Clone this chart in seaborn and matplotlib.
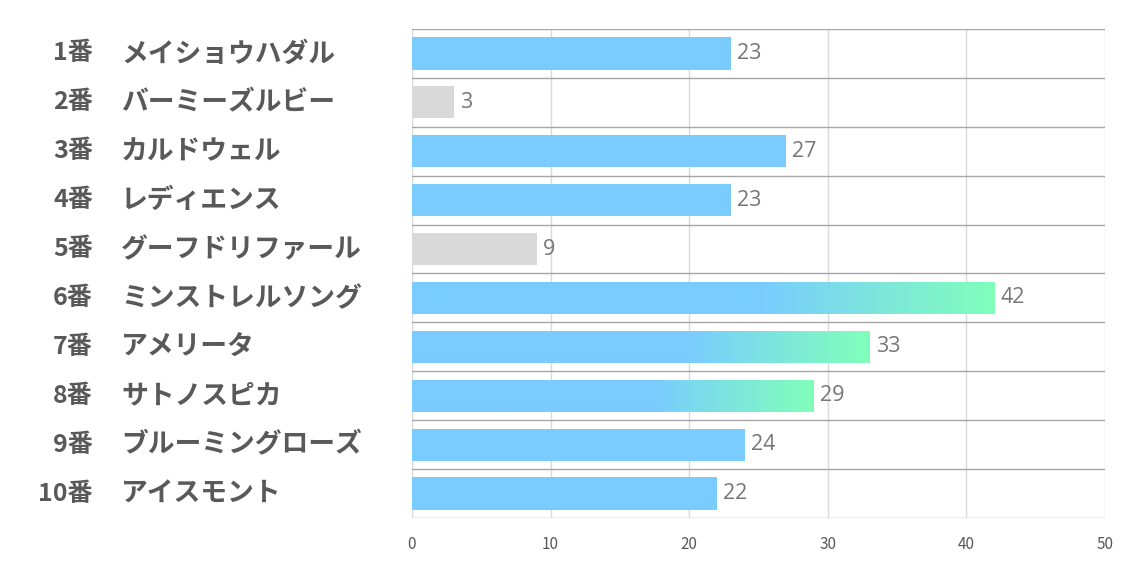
import numpy as np
import pandas as pd
import matplotlib
matplotlib.use("Agg")
import matplotlib.pyplot as plt
import seaborn as sns
from matplotlib.colors import LinearSegmentedColormap

numbers = ["1番", "2番", "3番", "4番", "5番", "6番", "7番", "8番", "9番", "10番"]
names = ["メイショウハダル", "バーミーズルビー", "カルドウェル", "レディエンス", "グーフドリファール",
         "ミンストレルソング", "アメリータ", "サトノスピカ", "ブルーミングローズ", "アイスモント"]
values = [23, 3, 27, 23, 9, 42, 33, 29, 24, 22]
kinds = ["blue", "gray", "blue", "blue", "gray", "grad", "grad", "grad", "blue", "blue"]

BLUE = "#7ACCFF"
GREEN = "#80FFBA"
GRAY = "#D9D9D9"

sns.set_theme(style="white")
plt.rcParams['font.family'] = ['Noto Sans CJK JP', 'DejaVu Sans']

df = pd.DataFrame({"name": names, "value": values, "kind": kinds})

fig = plt.figure(figsize=(11.34, 5.67), dpi=100)
ax = fig.add_axes([0.3633, 0.0864, 0.6111, 0.8625])

sns.barplot(data=df, x="value", y="name", hue="kind", orient="h",
            palette={"blue": BLUE, "gray": GRAY, "grad": BLUE},
            width=0.66, legend=False, ax=ax, zorder=2, saturation=1, linewidth=0)

ax.set_xlim(0, 50)
ax.set_ylim(len(names) - 0.5, -0.5)

# gradient fill on some bars (blue for first ~60%, then fade to green)
cmap = LinearSegmentedColormap.from_list("bg", [(0, BLUE), (0.6, BLUE), (1, GREEN)])
grad = np.linspace(0, 1, 256).reshape(1, -1)
for p in ax.patches:
    if p.get_width() <= 0:
        continue
    i = int(round(p.get_y() + p.get_height() / 2))
    if kinds[i] != "grad":
        continue
    x0, y0, w, h = p.get_x(), p.get_y(), p.get_width(), p.get_height()
    im = ax.imshow(grad, cmap=cmap, aspect="auto", extent=[x0, x0 + w, y0 + h, y0],
                   zorder=3, interpolation="bicubic")
    im.set_clip_path(p)

ax.set_xlim(0, 50)
ax.set_ylim(len(names) - 0.5, -0.5)

# grid lines
for xv in [0, 10, 20, 30, 40, 50]:
    ax.axvline(xv, color="#D9D9D9", lw=1, zorder=1)
for k in range(len(names) + 1):
    ax.axhline(k - 0.5, color="#A6A6A6", lw=1, zorder=1)

for s in ax.spines.values():
    s.set_visible(False)

ax.set_xticks([0, 10, 20, 30, 40, 50])
ax.tick_params(axis="x", labelsize=11, colors="#595959", length=0, pad=13)
ax.set_yticks([])
ax.set_xlabel("")
ax.set_ylabel("")

# value labels
for i, v in enumerate(values):
    ax.text(v + 0.45, i, str(v), ha="left", va="center", fontsize=15.5,
            color="#767676", family=['Open Sans', 'DejaVu Sans'])

# row labels
trans = matplotlib.transforms.blended_transform_factory(fig.transFigure, ax.transData)
for i, (n, nm) in enumerate(zip(numbers, names)):
    ax.text(93 / 1134, i, n, ha="right", va="center", fontsize=18,
            fontweight="bold", color="#595959", transform=trans)
    ax.text(121 / 1134, i, nm, ha="left", va="center", fontsize=19.3,
            fontweight="bold", color="#595959", transform=trans)

fig.savefig("out.png", dpi=100)
